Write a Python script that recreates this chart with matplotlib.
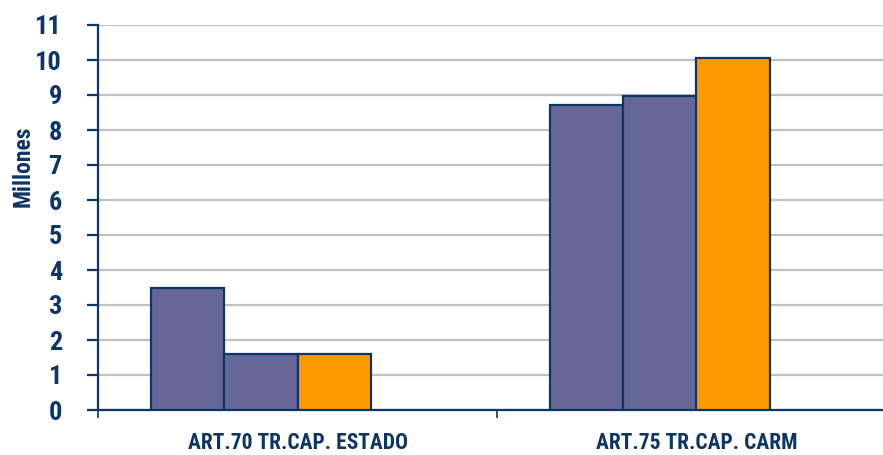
import matplotlib
matplotlib.use("Agg")
import matplotlib.pyplot as plt
from matplotlib import font_manager
import numpy as np

categories = ["ART.70 TR.CAP. ESTADO", "ART.75 TR.CAP. CARM"]
serie_1 = [3.49, 8.71]
serie_2 = [1.60, 8.97]
serie_3 = [1.60, 10.06]
y_ticks = list(range(0, 12))

navy = "#0D3566"
colors = ["#666699", "#666699", "#FF9900"]

names = {f.name for f in font_manager.fontManager.ttflist}
cond = [n for n in ["Liberation Sans Narrow", "Roboto Condensed", "Open Sans Condensed",
                    "DejaVu Sans Condensed"] if n in names]
fam = cond[:1] + ["DejaVu Sans"]

fig = plt.figure(figsize=(8.83, 4.55), dpi=100)
ax = fig.add_axes([98/883, 45/455, 798/883, 385/455])

x = np.arange(len(categories))
w = 0.183
slots = 4
for k, vals in enumerate([serie_1, serie_2, serie_3]):
    ax.bar(x + (k - (slots - 1) / 2) * w, vals, width=w, color=colors[k],
           edgecolor=navy, linewidth=1.6, zorder=3)

ax.set_xlim(-0.5, 1.5)
ax.set_ylim(0, 11)
ax.set_yticks(y_ticks)
ax.set_yticklabels([str(t) for t in y_ticks], fontsize=19, fontweight="bold",
                   color=navy, family=fam, stretch="condensed")
ax.yaxis.grid(True, color="#C0C0C0", linewidth=1.6, zorder=0)
ax.set_axisbelow(True)

ax.set_xticks([-0.5, 0.5, 1.5])
ax.set_xticklabels([])
ax.set_xticks(x, minor=True)
ax.set_xticklabels(categories, minor=True, fontsize=15.5, fontweight="bold",
                   color=navy, family=fam, stretch="condensed")
ax.tick_params(axis="x", which="minor", length=0, pad=16)
ax.tick_params(axis="x", which="major", length=6, width=1.2, color=navy, direction="out")
ax.tick_params(axis="y", length=8, width=1.6, color=navy, direction="out", pad=18)

for s in ["top", "right"]:
    ax.spines[s].set_visible(False)
for s in ["left", "bottom"]:
    ax.spines[s].set_color(navy)
    ax.spines[s].set_linewidth(1.6)

ax.set_ylabel("Millones", fontsize=17, fontweight="bold", color=navy, family=fam,
              stretch="condensed")
ax.yaxis.set_label_coords(-0.079, 0.634)

fig.savefig("out.png", dpi=100)
